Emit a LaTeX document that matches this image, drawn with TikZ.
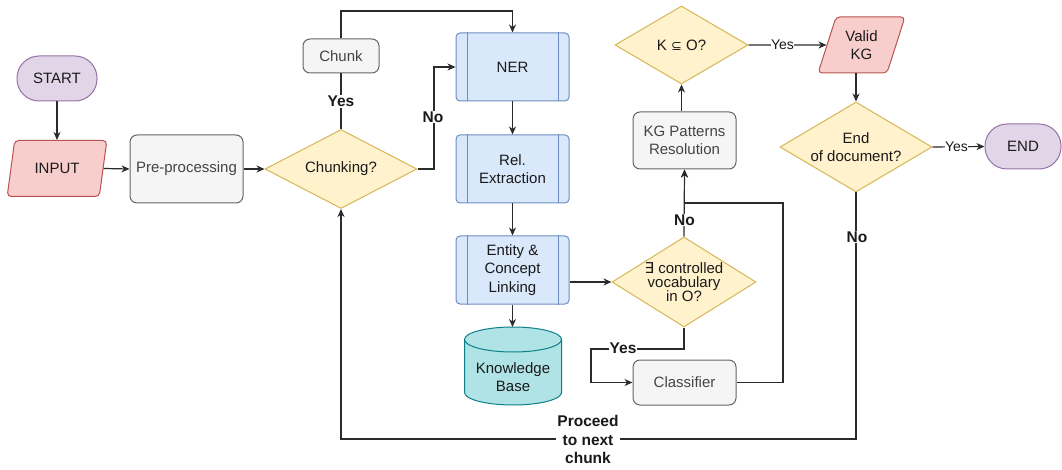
\documentclass[tikz,border=0pt]{standalone}
\usepackage{fontspec}
\setmainfont{Liberation Sans}
\newfontfamily\symfont{DejaVu Sans}
\usetikzlibrary{shapes.geometric,arrows.meta,calc}

\definecolor{termF}{HTML}{E1D5E7}\definecolor{termD}{HTML}{9673A6}
\definecolor{ioF}{HTML}{F8CECC}\definecolor{ioD}{HTML}{B85450}
\definecolor{grayF}{HTML}{F5F5F5}\definecolor{grayD}{HTML}{666666}\definecolor{grayT}{HTML}{444444}
\definecolor{procF}{HTML}{DAE8FC}\definecolor{procD}{HTML}{6C8EBF}
\definecolor{decF}{HTML}{FFF2CC}\definecolor{decD}{HTML}{D6B656}
\definecolor{dbF}{HTML}{B0E3E6}\definecolor{dbD}{HTML}{0E8088}
\definecolor{txt}{HTML}{1A1A1A}\definecolor{wire}{HTML}{2B2B2B}

\begin{document}
\begin{tikzpicture}[x=1pt,y=-1pt,
  base/.style={font=\fontsize{15}{18.5}\selectfont, align=center, inner sep=0pt,
    line width=1pt, text=txt},
  term/.style={base, draw=termD, fill=termF, rounded corners=22pt,
    minimum height=45pt},
  io/.style={base, draw=ioD, fill=ioF, trapezium, trapezium stretches=true,
    trapezium left angle=69, trapezium right angle=111, rounded corners=4pt,
    minimum height=56pt},
  graybox/.style={base, draw=grayD, fill=grayF, text=grayT, rounded corners=7pt},
  procbox/.style={base, draw=procD, fill=procF, rounded corners=4pt,
    minimum width=113pt, minimum height=68pt},
  dec/.style={base, diamond, draw=decD, fill=decF},
  wireline/.style={draw=wire, line width=1.2pt},
  arr/.style={wireline, -{Stealth[length=8pt,width=7pt,inset=2.5pt]}},
  lbl/.style={fill=white, inner sep=1pt, text=txt,
    font=\fontsize{15.5}{18.5}\selectfont\bfseries, align=center},
  ylbl/.style={fill=white, inner sep=0.5pt, text=txt,
    font=\fontsize{14}{16}\selectfont}
]
\useasboundingbox (0,0) rectangle (1062,470);

% terminals and data
\node[term, minimum width=80pt] (start) at (57,78.5) {START};
\node[io, minimum width=100pt] (input) at (57,168.5) {INPUT};
\node[io, minimum width=87pt] (valid) at (861.5,45) {Valid\\KG};
\node[term, minimum width=76pt] (stop) at (1023,146.5) {END};

% plain steps
\node[graybox, minimum width=113pt, minimum height=68pt] (pre) at (186.5,169) {Pre-processing};
\node[graybox, minimum width=76pt, minimum height=34pt] (chunk) at (341,56) {Chunk};
\node[graybox, minimum width=103pt, minimum height=57pt] (kgpat) at (684.5,140.5) {KG Patterns\\Resolution};
\node[graybox, minimum width=103pt, minimum height=45pt] (cls) at (684.5,382.5) {Classifier};

% predefined processes
\node[procbox] (ner) at (512.5,67) {NER};
\node[procbox] (rel) at (512.5,169) {Rel.\\Extraction};
\node[procbox] (ent) at (512.5,270) {Entity \&\\Concept\\Linking};
\foreach \p in {ner,rel,ent}{
  \draw[procD, line width=1pt] ([xshift=11.5pt]\p.north west) -- ([xshift=11.5pt]\p.south west);
  \draw[procD, line width=1pt] ([xshift=-11.5pt]\p.north east) -- ([xshift=-11.5pt]\p.south east);
}

% decisions
\node[dec, aspect=1.92, minimum width=152pt, minimum height=79pt] (chk) at (341,169) {Chunking?};
\node[dec, aspect=1.6, minimum width=144pt, minimum height=90pt, inner sep=-9pt,
  font=\fontsize{15}{14}\selectfont] (vocab) at (684,282) {{\symfont ∃} controlled\\vocabulary\\in O?};
\node[dec, aspect=1.7, minimum width=133pt, minimum height=78pt] (ksub) at (681.5,45) {K {\symfont\fontsize{13}{15}\selectfont ⊆} O?};
\node[dec, aspect=1.69, minimum width=152pt, minimum height=90pt, inner sep=-3pt] (enddoc) at (856,147) {End\\of document?};

% knowledge base cylinder
\node[base, minimum width=97pt, minimum height=78pt] (kb) at (513,376) {};
\draw[draw=dbD, fill=dbF, line width=1pt]
  (464.5,339.5) -- (464.5,392.5) arc (180:0:48.5 and 12.5) -- (561.5,339.5)
  arc (0:-180:48.5 and 12.5) -- cycle;
\draw[dbD, line width=1pt] (464.5,339.5) arc (180:0:48.5 and 12.5);
\node[base] (kbtext) at (513,377) {Knowledge\\Base};

% connectors
\draw[arr] (start) -- (input);
\draw[arr] (input.east) -- (pre.west);
\draw[arr] (pre) -- (chk);
\draw[wireline] (chk.north) -- (chunk.south) node[lbl, midway] (yes1) {Yes};
\draw[arr] (chunk.north) -- (341,11) -| (ner.north);
\coordinate (nobend) at (434,169);
\draw[arr] (chk.east) -- (nobend) |- (ner.west);
\node[lbl] (no1) at (433,117) {No};
\draw[arr] (ner) -- (rel);
\draw[arr] (rel) -- (ent);
\draw[arr] (ent) -- (ent.south |- 0,327);
\draw[arr] (ent.east |- vocab.west) -- (vocab.west);
\coordinate (yesbend) at (591,349);
\draw[arr] (vocab.south) -- (vocab.south |- yesbend) -- (yesbend) |- (cls.west);
\node[lbl] (yes2) at (623,348) {Yes};
\coordinate (clsbend) at (783,203);
\draw[arr] (cls.east) -| (clsbend) -| (kgpat.south);
\draw[arr] (vocab.north) -- (kgpat.south);
\node[lbl] (no2) at (684.5,220) {No};
\draw[arr] (ksub.south |- kgpat.north) -- (ksub.south);
\draw[arr] (ksub.east) -- (valid.west) node[ylbl, midway, xshift=-5pt] (yes3) {Yes};
\draw[arr] (enddoc.north |- valid.south) -- (enddoc.north);
\draw[arr] (enddoc.east) -- (stop.west) node[ylbl, midway, xshift=-2pt] (yes4) {Yes};
\coordinate (loopr) at (856,439);
\coordinate (loopl) at (341,439);
\draw[arr] (enddoc.south) -- (loopr) -- (loopl) -- (chk.south);
\node[lbl] (no3) at (857,237) {No};
\node[lbl] (proceed) at (588,439.5) {Proceed\\to next\\chunk};
\end{tikzpicture}
\end{document}
